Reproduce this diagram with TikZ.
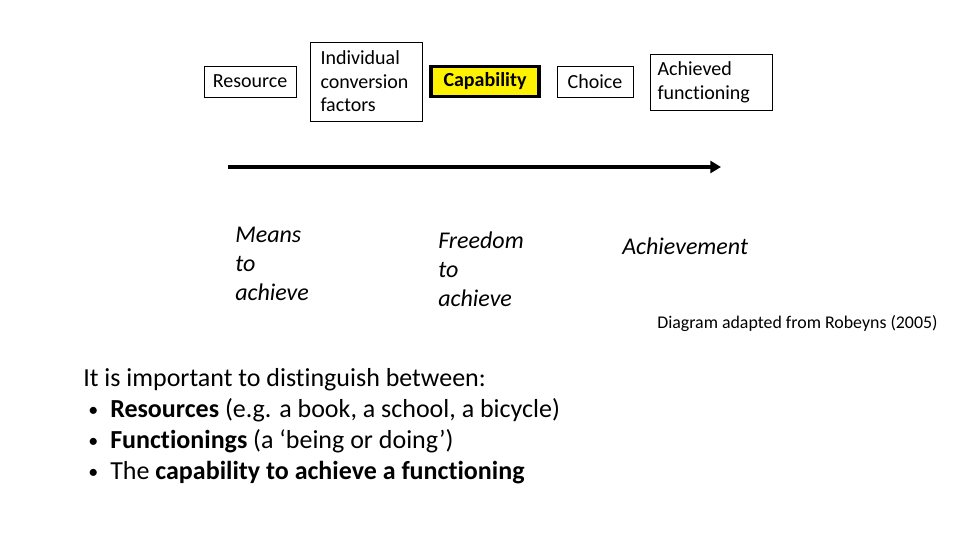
\documentclass[tikz,border=0pt]{standalone}
\usepackage{fontspec}
\setmainfont{Carlito}[Ligatures=NoCommon]
\usetikzlibrary{arrows.meta}
\tikzset{
  box/.style={draw=black, line width=0.75pt, inner sep=0pt, font=\fontsize{15}{17.7}\selectfont},
  capbox/.style={draw=black, fill=yellow, line width=2.4pt, inner sep=0pt, font=\fontsize{15}{17.7}\selectfont\bfseries},
  itlabel/.style={anchor=west, inner sep=0pt, align=left, font=\fontsize{18}{21.75}\selectfont\itshape},
  body/.style={anchor=north west, inner sep=0pt, align=left, font=\fontsize{19.5}{23.25}\selectfont},
}
\newcommand\mybul{\makebox[27\dimexpr0.75pt\relax][l]{\hspace{5\dimexpr0.75pt\relax}\raisebox{0.5pt}{\fontsize{15}{15}\selectfont •}}}
\begin{document}
\begin{tikzpicture}[x=0.75pt, y=-0.75pt]
\useasboundingbox (0,0) rectangle (960,540);
\node[box, minimum width=92*0.75pt, minimum height=31*0.75pt] (res) at (250,81.5) {Resource};
\node[box, minimum width=112*0.75pt, minimum height=79*0.75pt, align=left, anchor=west, inner xsep=10*0.75pt, text width=92*0.75pt] (icf) at (310,81.5) {Individual\\conversion\\factors};
\node[capbox, minimum width=108*0.75pt, minimum height=30*0.75pt, text height=9pt, text depth=2pt] (cap) at (485,81.5) {Capability};
\node[box, minimum width=76*0.75pt, minimum height=31*0.75pt] (cho) at (595,81.5) {Choice};
\node[box, minimum width=122*0.75pt, minimum height=56*0.75pt, align=left, anchor=west, inner xsep=7*0.75pt, text width=108*0.75pt, font=\fontsize{15}{18}\selectfont] (ach) at (650,82) {\raisebox{-1.5pt}{Achieved}\\\raisebox{-1.5pt}{functioning}};
\coordinate (a1) at (228,167);
\coordinate (a2) at (721,167);
\draw[line width=3pt, -{Triangle[length=8pt, width=9pt]}] (a1) -- (a2);
\node[itlabel] (means) at (235,263.5) {Means\\to\\achieve};
\node[itlabel] (free) at (438,269) {Freedom\\to\\achieve};
\node[itlabel] (achv) at (622,246) {Achievement};
\node[anchor=west, inner sep=0pt, font=\fontsize{13.4}{15}\selectfont] (src) at (657,323) {Diagram adapted from Robeyns (2005)};
\node[body] (txt) at (83,368) {It is important to distinguish between:\\
\mybul\textbf{Resources} (e.g. a book, a school, a bicycle)\\
\mybul\textbf{Functionings} (a ‘being or doing’)\\
\mybul The \textbf{capability to achieve a functioning}};
\end{tikzpicture}
\end{document}
